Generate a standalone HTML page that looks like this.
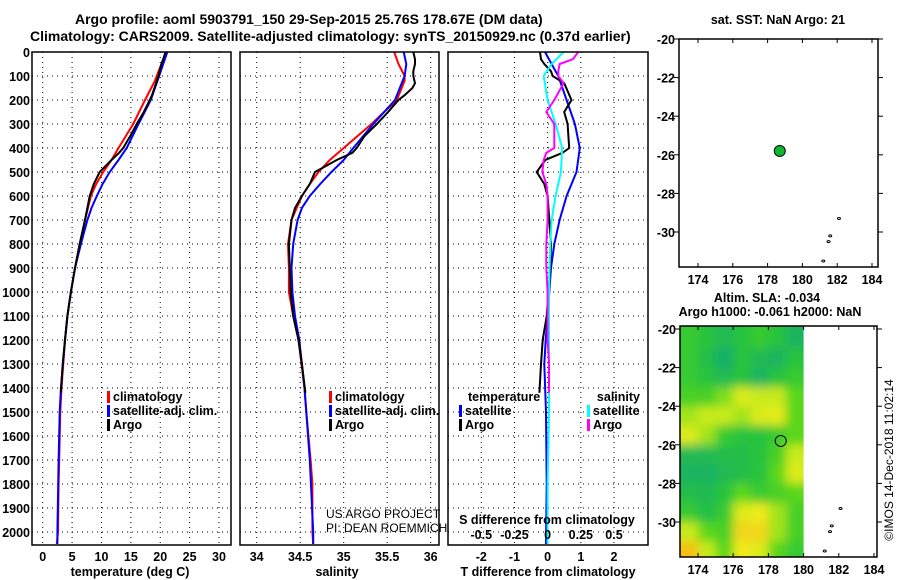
<!DOCTYPE html>
<html><head><meta charset="utf-8"><style>
body{margin:0;background:#fff;}
svg{display:block;font-family:"Liberation Sans",Arial,sans-serif;}
text{font-weight:bold;font-size:12.5px;fill:#000;}
</style></head><body>
<svg id="c" width="900" height="580" viewBox="0 0 900 580"></svg>
<script>
// ---------- data ----------
const depthTicks=[0,100,200,300,400,500,600,700,800,900,1000,1100,1200,1300,1400,1500,1600,1700,1800,1900,2000];
const tempTicks=[0,5,10,15,20,25,30];
const salTicks=[34,34.5,35,35.5,36];
const tdiffTicks=[-2,-1,0,1,2];
const sdiffTicks=[-0.5,-0.25,0,0.25,0.5];
const lonTicks=[174,176,178,180,182,184];
const latTicks=[-20,-22,-24,-26,-28,-30];

const climDepth=[0,50,100,120,200,300,400,450,500,550,600,700,800,900,1000,1100,1200,1400,1500,1700,1800,2000,2050];
const climTemp=[21.0,20.2,19.4,19.1,17.4,15.4,12.9,11.7,10.3,9.1,8.2,7.2,6.3,5.5,4.8,4.2,3.8,3.2,3.0,2.8,2.7,2.6,2.4];
const climSal=[35.58,35.63,35.70,35.70,35.61,35.32,35.00,34.84,34.71,34.61,34.52,34.40,34.36,34.37,34.37,34.42,34.48,34.55,34.57,34.62,34.64,34.64,34.65];
const satDepth=[0,50,100,200,300,400,450,500,550,600,650,700,800,900,1000,1100,1200,1400,1500,1700,2000,2050];
const satTemp=[21.2,20.5,19.8,18.4,16.3,14.3,12.9,11.4,10.2,9.2,8.3,7.6,6.5,5.5,4.8,4.2,3.8,3.1,2.9,2.7,2.5,2.5];
const satSal=[35.69,35.72,35.70,35.59,35.34,35.11,35.00,34.86,34.73,34.61,34.52,34.47,34.42,34.40,34.41,34.44,34.49,34.55,34.57,34.61,34.65,34.65];
const argoDepth=[0,30,50,80,100,130,150,180,200,250,300,350,400,420,450,480,500,550,600,650,700,800,900,1000,1100,1200,1300,1420];
const argoTemp=[20.9,20.5,20.2,19.9,19.7,19.3,19.0,18.6,18.2,17.2,16.0,14.9,13.7,13.0,11.7,10.5,9.7,8.7,8.0,7.6,7.2,6.3,5.5,4.8,4.2,3.8,3.4,3.1];
const argoSal=[35.80,35.82,35.82,35.80,35.80,35.82,35.79,35.70,35.63,35.51,35.38,35.24,35.15,35.10,34.92,34.77,34.67,34.61,34.52,34.44,34.40,34.37,34.38,34.39,34.42,34.48,34.52,34.56];

const dDepthT=[0,50,100,200,300,400,500,600,700,800,900,1000,1100,1200,1300,1500,1800,2050];
const satMinusClimT=[-0.08,0.12,0.32,0.57,0.82,0.97,0.87,0.57,0.36,0.20,0.10,0.05,0.0,-0.06,-0.1,-0.05,-0.03,-0.05];
const satMinusClimS=[0.12,0.03,-0.03,0.0,0.06,0.11,0.10,0.06,0.03,0.02,0.015,0.01,0.01,0.01,0.01,0.01,0.0,0.0];
const aDepth=[0,30,50,80,100,130,200,250,300,400,420,450,500,550,600,700,800,900,1000,1100,1200,1300,1420];
const argoMinusClimT=[-0.23,-0.2,-0.1,0.1,0.15,0.5,0.72,0.5,0.6,0.65,0.45,-0.07,-0.33,-0.1,0.0,0.05,0.1,0.08,0.03,-0.03,-0.15,-0.2,-0.25];
const argoMinusClimS=[0.23,0.19,0.09,0.08,0.08,0.12,0.05,-0.01,0.05,0.05,-0.01,-0.03,-0.04,-0.01,0.0,0.0,-0.01,-0.01,0.0,0.0,0.0,0.01,0.01];

const floatLon=178.7, floatLat=-25.8;
const slaLon=[173.5,174.5,175.5,176.5,177.5,178.5,179.5];
const slaLat=[-20.5,-21.5,-22.5,-23.5,-24.5,-25.5,-26.5,-27.5,-28.5,-29.5,-30.5,-31.5];
const slaRows=[
[0.5,0.45,0.35,0.45,0.5,0.45,0.3],
[0.5,0.4,0.25,0.45,0.35,0.3,0.45],
[0.5,0.45,0.35,0.45,0.3,0.45,0.5],
[0.55,0.55,0.65,0.8,0.75,0.75,0.6],
[0.7,0.75,0.75,0.7,0.8,0.82,0.6],
[0.8,0.7,0.5,0.45,0.45,0.5,0.6],
[0.35,0.35,0.4,0.4,0.45,0.55,0.75],
[0.3,0.3,0.35,0.4,0.45,0.6,0.8],
[0.4,0.35,0.45,0.6,0.5,0.55,0.6],
[0.5,0.4,0.5,0.8,0.85,0.7,0.55],
[0.75,0.6,0.55,0.9,0.9,0.7,0.55],
[0.95,0.75,0.6,0.85,0.8,0.6,0.5]];
const islands=[[182.1,-29.3],[181.6,-30.2],[181.5,-30.5],[181.2,-31.5]];

// ---------- helpers ----------
const NS="http://www.w3.org/2000/svg";
const svg=document.getElementById('c');
function el(tag,attrs,parent){const e=document.createElementNS(NS,tag);for(const k in attrs)e.setAttribute(k,attrs[k]);(parent||svg).appendChild(e);return e;}
function txt(x,y,s,anchor,size,parent){const t=el('text',{x:x,y:y,'text-anchor':anchor||'start'},parent);if(size)t.style.fontSize=size+'px';t.textContent=s;return t;}
const Y0=52, PXM=0.24, YB=545;
const yD=d=>Y0+d*PXM;
function lin(v0,p0,v1,p1){return v=>p0+(v-v0)*(p1-p0)/(v1-v0);}

function panel(x0,x1,name){
  const g=el('g',{});
  
  
  return g;
}
function frame(g,x0,x1,y0,y1){el('rect',{x:x0,y:y0,width:x1-x0,height:y1-y0,fill:'none',stroke:'#000','stroke-width':1.5},g);}
function hgrid(g,x0,x1){depthTicks.forEach(d=>{el('line',{x1:x0,x2:x1,y1:yD(d),y2:yD(d),stroke:'#000','stroke-width':1,'stroke-dasharray':'1,4'},g);});}
function vgrid(g,xs){xs.forEach(x=>{el('line',{x1:x,x2:x,y1:Y0,y2:YB,stroke:'#000','stroke-width':1,'stroke-dasharray':'1,4'},g);});}
function prof(g,vals,deps,sx,color,name,w){
  const p=el('polyline',{points:vals.map((v,i)=>sx(v).toFixed(1)+','+yD(deps[i]).toFixed(1)).join(' '),fill:'none',stroke:color,'stroke-width':w||2},g);
  
  
}
function legItem(g,x,y,color,label){
  el('rect',{x:x,y:y-10,width:3,height:12,fill:color},g);
  txt(x+6,y,label,'start',null,g);
}

// titles
const t1=txt(75,24,'Argo profile: aoml 5903791_150 29-Sep-2015 25.76S 178.67E (DM data)','start',14);

const t2=txt(30,41,'Climatology: CARS2009. Satellite-adjusted climatology: synTS_20150929.nc (0.37d earlier)','start',14);


// depth labels
const dl=el('g',{});

depthTicks.forEach(d=>txt(30,yD(d)+5,String(d),'end',null,dl));

// ---- temperature panel ----
const sxT=lin(0,42.7,30,219);
const gT=panel(32,231,'temperature-panel');
hgrid(gT,32,231);vgrid(gT,tempTicks.map(sxT));
prof(gT,climTemp,climDepth,sxT,'#f00','temp-climatology-line');
prof(gT,satTemp,satDepth,sxT,'#00f','temp-satellite-line');
prof(gT,argoTemp,argoDepth,sxT,'#000','temp-argo-line');
frame(gT,32,231,Y0,YB);
tempTicks.forEach(v=>txt(sxT(v),561,String(v),'middle',null,gT));
txt(130,576,'temperature (deg C)','middle',null,gT);
legItem(gT,107,401,'#f00','climatology');legItem(gT,107,415,'#00f','satellite-adj. clim.');legItem(gT,107,429,'#000','Argo');

// ---- salinity panel ----
const sxS=lin(34,256.7,36,430.7);
const gS=panel(240,439,'salinity-panel');
hgrid(gS,240,439);vgrid(gS,salTicks.map(sxS));
prof(gS,climSal,climDepth,sxS,'#f00','sal-climatology-line');
prof(gS,satSal,satDepth,sxS,'#00f','sal-satellite-line');
prof(gS,argoSal,argoDepth,sxS,'#000','sal-argo-line');
frame(gS,240,439,Y0,YB);
salTicks.forEach(v=>txt(sxS(v),561,String(v),'middle',null,gS));
txt(337,576,'salinity','middle',null,gS);
legItem(gS,329,401,'#f00','climatology');legItem(gS,329,415,'#00f','satellite-adj. clim.');legItem(gS,329,429,'#000','Argo');
const cr=el('g',{},gS);
const c1=txt(326,518,'US ARGO PROJECT','start',12,cr);c1.style.fontWeight='normal';
const c2=txt(326,532,'PI: DEAN ROEMMICH','start',12,cr);c2.style.fontWeight='normal';

// ---- difference panel ----
const sxD=lin(-2,481.3,2,614);
const sxDS=lin(-0.5,481.3,0.5,614);
const gD=panel(448,648,'difference-panel');
hgrid(gD,448,648);vgrid(gD,tdiffTicks.map(sxD));
prof(gD,satMinusClimT,dDepthT,sxD,'#00f','tdiff-satellite-line');
prof(gD,argoMinusClimT,aDepth,sxD,'#000','tdiff-argo-line');
prof(gD,satMinusClimS,dDepthT,sxDS,'#0ff','sdiff-satellite-line');
prof(gD,argoMinusClimS,aDepth,sxDS,'#f0f','sdiff-argo-line');
frame(gD,448,648,Y0,YB);
tdiffTicks.forEach(v=>txt(sxD(v),561,String(v),'middle',null,gD));
sdiffTicks.forEach(v=>txt(sxDS(v),539,String(v),'middle',null,gD));
txt(547,524,'S difference from climatology','middle',null,gD);
txt(548,576,'T difference from climatology','middle',null,gD);
txt(468,401,'temperature','start',null,gD);
legItem(gD,459,415,'#00f','satellite');legItem(gD,459,429,'#000','Argo');
txt(640,401,'salinity','end',null,gD);
legItem(gD,587,415,'#0ff','satellite');legItem(gD,587,429,'#f0f','Argo');

// ---- maps ----
function mapAxes(g,x0,x1,y0,y1,sx,sy){
  lonTicks.forEach(v=>{const x=sx(v);el('line',{x1:x,x2:x,y1:y0,y2:y0+4,stroke:'#000'},g);el('line',{x1:x,x2:x,y1:y1,y2:y1-4,stroke:'#000'},g);txt(x,y1+17,String(v),'middle',null,g);});
  latTicks.forEach(v=>{const y=sy(v);el('line',{x1:x0-5,x2:x0,y1:y,y2:y,stroke:'#000'},g);el('line',{x1:x1,x2:x1+5,y1:y,y2:y,stroke:'#000'},g);txt(x0-4,y+5,String(v),'end',null,g);});
  frame(g,x0,x1,y0,y1);
}
function drawIslands(g,sx,sy){islands.forEach(p=>{el('ellipse',{cx:sx(p[0]),cy:sy(p[1]),rx:1.5,ry:1,fill:'none',stroke:'#000','stroke-width':1},g);});}

const sxM=lin(174,698,184,872), syM=lin(-20,39,-30,232);
const gM=panel(679,878,'sst-map');
txt(778,24,'sat. SST: NaN Argo: 21','middle',null,gM);
drawIslands(gM,sxM,syM);
const dot=el('circle',{cx:sxM(floatLon),cy:syM(floatLat),r:5.5,fill:'#10b830',stroke:'#000','stroke-width':1},gM);

mapAxes(gM,679,878,39,267,sxM,syM);

const sxA=lin(174,698,184,874), syA=lin(-20,329,-30,522);
const gA=panel(680,877,'sla-map');
txt(767,302,'Altim. SLA: -0.034','middle',null,gA);
txt(770,316,'Argo h1000: -0.061 h2000: NaN','middle',null,gA);
const defs=el('defs',{});
const cp=el('clipPath',{id:'hc'},defs);el('rect',{x:680,y:326,width:sxA(180)-680,height:231},cp);
const f=el('filter',{id:'bl',x:'-10%',y:'-10%',width:'120%',height:'120%'},defs);el('feGaussianBlur',{stdDeviation:5},f);
function cmap(v){
  const stops=[[0.2,[20,170,120]],[0.45,[40,195,60]],[0.6,[90,215,30]],[0.75,[200,235,30]],[0.85,[240,235,30]],[1,[250,170,20]]];
  if(v<=stops[0][0])return 'rgb('+stops[0][1]+')';
  for(let i=1;i<stops.length;i++){if(v<=stops[i][0]){const a=stops[i-1],b=stops[i],t=(v-a[0])/(b[0]-a[0]);return 'rgb('+a[1].map((c,k)=>Math.round(c+(b[1][k]-c)*t)).join(',')+')';}}
  return 'rgb('+stops[stops.length-1][1]+')';
}
const hg=el('g',{'clip-path':'url(#hc)'},gA);

const hb=el('g',{filter:'url(#bl)'},hg);
const cw=sxA(1)-sxA(0), ch=syA(-1)-syA(0);
slaRows.forEach((row,r)=>row.forEach((v,c)=>{
  const x=sxA(slaLon[c])-cw/2, y=syA(slaLat[r])-ch/2;
  // extend border cells to avoid blur fade
  const ex0=c===0?-12:0, ex1=c===row.length-1?12:0, ey0=r===0?-12:0, ey1=r===slaRows.length-1?12:0;
  const cell=el('rect',{x:x+ex0,y:y+ey0,width:cw+1-ex0+ex1,height:ch+1-ey0+ey1,fill:cmap(v)},hb);
  
  
}));
drawIslands(gA,sxA,syA);
const oc=el('circle',{cx:sxA(floatLon),cy:syA(floatLat),r:5.5,fill:'none',stroke:'#000','stroke-width':1},gA);

mapAxes(gA,680,877,326,557,sxA,syA);

const st=txt(0,0,'©IMOS 14-Dec-2018 11:02:14','middle',12);
st.style.fontWeight='normal';
st.setAttribute('transform','translate(893,460) rotate(-90)');

</script>
</body></html>
